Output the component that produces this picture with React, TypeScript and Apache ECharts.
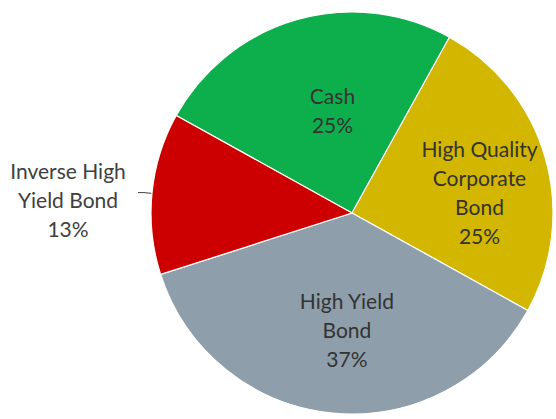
import React, { useEffect, useRef } from "react";
import * as echarts from "echarts";

const categories = [
  "Cash",
  "High Quality\nCorporate\nBond",
  "High Yield\nBond",
  "Inverse High\nYield Bond",
];
const values = [25, 25, 37, 13];
const colors = ["#0CAF4C", "#D2B600", "#8E9FAB", "#CC0000"];
const insideOffsets = [
  [9, -4],
  [28, 8],
  [5, 13],
  [-5, 7],
];

export default function App() {
  const ref = useRef<HTMLDivElement>(null);
  useEffect(() => {
    if (!ref.current) return;
    const chart = echarts.init(ref.current, null, { renderer: "svg" });
    const font = "Lato, 'Open Sans', sans-serif";
    chart.setOption({
      animation: false,
      series: [
        {
          type: "pie",
          center: [352, 213],
          radius: 201,
          startAngle: 151,
          clockwise: true,
          avoidLabelOverlap: false,
          itemStyle: { borderColor: "#ffffff", borderWidth: 1.2 },
          label: {
            show: true,
            position: "inside",
            fontFamily: font,
            fontSize: 21,
            lineHeight: 29,
            color: "#333333",
            align: "center",
            formatter: (p: any) => `${p.name}\n${p.value}%`,
          },
          labelLine: { show: false },
          labelLayout: (p: any) => {
            const o = insideOffsets[p.dataIndex];
            return { dx: o[0], dy: o[1] };
          },
          data: categories.map((name, i) => {
            const item: any = {
              name,
              value: values[i],
              itemStyle: { color: colors[i] },
            };
            if (i === 3) {
              item.label = {
                position: "outside",
                color: "#404040",
                formatter: (p: any) =>
                  [...p.name.split("\n"), `${p.value}%`]
                    .map((s: string) => `{w|${s}}`)
                    .join("\n"),
                rich: {
                  w: {
                    width: 120,
                    align: "center",
                    fontFamily: font,
                    fontSize: 21,
                    lineHeight: 29,
                    color: "#404040",
                  },
                },
              };
              item.labelLine = {
                show: true,
                length: 8,
                length2: 6,
                smooth: false,
                lineStyle: { color: "#404040", width: 1 },
              };
            }
            return item;
          }),
        },
      ],
    });
    return () => chart.dispose();
  }, []);
  return (
    <div
      ref={ref}
      style={{ position: "fixed", left: 0, top: 0, width: 556, height: 419, background: "#fff" }}
    />
  );
}
